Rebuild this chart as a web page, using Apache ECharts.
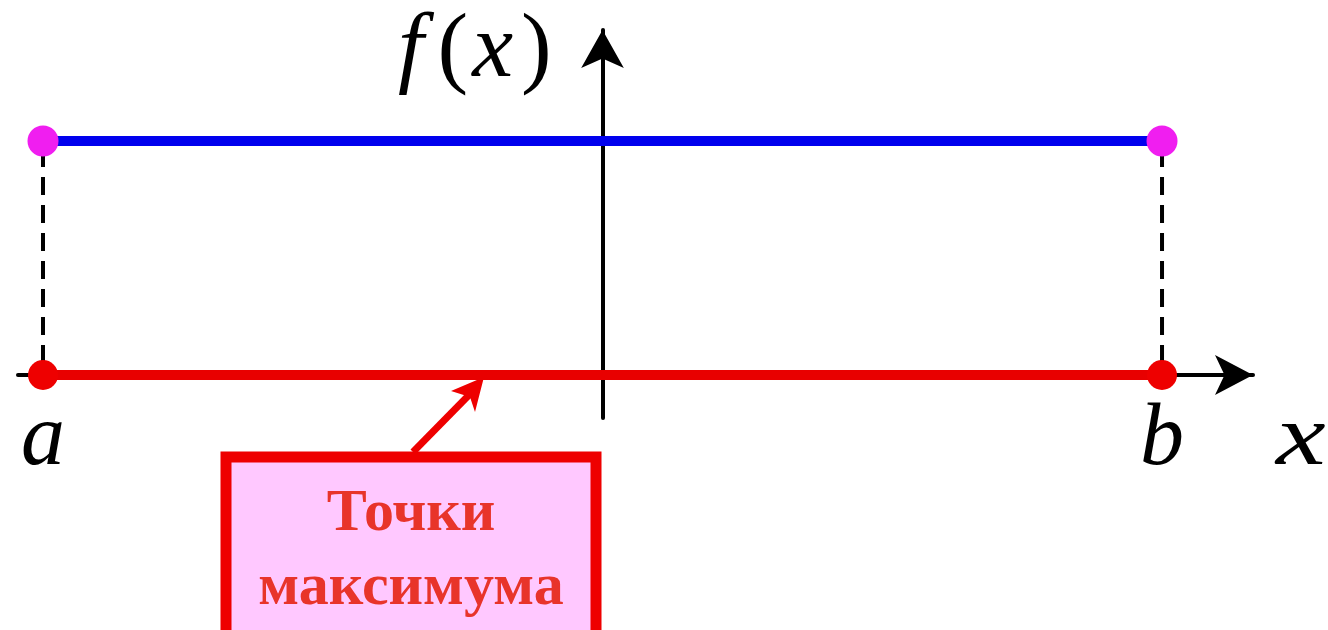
<!DOCTYPE html>
<html>
<head>
<meta charset="utf-8">
<script src="https://cdn.jsdelivr.net/npm/echarts@6/dist/echarts.min.js"></script>
<style>
  html, body { margin: 0; padding: 0; background: #fff; }
  #chart { width: 1328px; height: 630px; }
</style>
</head>
<body>
<div id="chart"></div>
<script>
// ends of the segment [a, b]
var segmentX = [-5, 5];
var endNames = ['a', 'b'];
// f(x) is constant on [a, b]
var fValues = [2, 2];
// every point of [a, b] is a maximum point (drawn on the x axis)
var maxPointLevel = [0, 0];
var noteLines = ['Точки', 'максимума'];

var serif = '"Liberation Serif", "DejaVu Serif", serif';

function pairs(xs, ys) {
  return xs.map(function (x, i) { return [x, ys[i]]; });
}

var chart = echarts.init(document.getElementById('chart'));

var series = [];
// dashed drop lines from f(a), f(b) to the axis
segmentX.forEach(function (x, i) {
  series.push({
    type: 'line',
    data: [[x, fValues[i]], [x, maxPointLevel[i]]],
    showSymbol: false,
    silent: true,
    z: 2,
    lineStyle: { color: '#000', width: 4, type: [18, 10], dashOffset: -8 }
  });
});
// f(x)
series.push({
  type: 'line',
  data: pairs(segmentX, fValues),
  symbol: 'circle',
  symbolSize: 31,
  z: 3,
  lineStyle: { color: '#0000ee', width: 10 },
  itemStyle: { color: '#f01ef0' }
});
// maximum points on the x axis
series.push({
  type: 'line',
  data: pairs(segmentX, maxPointLevel),
  symbol: 'circle',
  symbolSize: 30,
  z: 3,
  lineStyle: { color: '#e80000', width: 10 },
  itemStyle: { color: '#ee0000' },
  label: {
    show: true,
    position: 'bottom',
    distance: 7,
    formatter: function (p) { return endNames[p.dataIndex]; },
    fontFamily: serif,
    fontStyle: 'italic',
    fontSize: 88,
    color: '#000'
  }
});

chart.setOption({
  animation: false,
  grid: { left: 18, right: 75, top: 30, bottom: 212 },
  xAxis: {
    type: 'value',
    min: -5.2234,
    max: 5.813,
    splitLine: { show: false },
    axisTick: { show: false },
    axisLabel: { show: false },
    axisLine: {
      onZero: true,
      symbol: ['none', 'arrow'],
      symbolSize: [30, 38],
      lineStyle: { color: '#000', width: 4 }
    }
  },
  yAxis: {
    type: 'value',
    min: -0.3675,
    max: 2.949,
    splitLine: { show: false },
    axisTick: { show: false },
    axisLabel: { show: false },
    axisLine: {
      onZero: true,
      symbol: ['none', 'arrow'],
      symbolSize: [32, 38],
      lineStyle: { color: '#000', width: 4 }
    }
  },
  series: series,
  graphic: [
    {
      type: 'text',
      left: 398, top: 6,
      style: {
        text: '{f|f}{lp|(}{i|x}{rp|)}',
        rich: {
          f: { font: 'italic 92px ' + serif, fill: '#000', padding: [0, 0, 0, 6] },
          i: { font: 'italic 92px ' + serif, fill: '#000' },
          lp: { font: '92px ' + serif, fill: '#000', padding: [0, 4, 0, 14] },
          rp: { font: '92px ' + serif, fill: '#000', padding: [0, 0, 0, 8] }
        }
      }
    },
    {
      type: 'text',
      x: 1276, y: 398,
      scaleX: 1.3,
      style: { text: 'x', font: 'italic 86px ' + serif, fill: '#000' }
    },
    {
      type: 'line',
      shape: { x1: 413, y1: 452, x2: 470, y2: 394 },
      style: { stroke: '#ee0000', lineWidth: 7 }
    },
    {
      type: 'polygon',
      shape: { points: [[484, 377], [451, 391], [470, 397], [475, 412]] },
      style: { fill: '#ee0000' }
    },
    {
      type: 'rect',
      shape: { x: 226, y: 457, width: 370, height: 200 },
      style: { fill: '#ffc8ff', stroke: '#ee0000', lineWidth: 11 }
    },
    {
      type: 'text',
      x: 411, y: 551,
      style: {
        text: noteLines.join('\n'),
        font: 'bold 60px ' + serif,
        lineHeight: 74,
        fill: '#e8342a',
        align: 'center',
        verticalAlign: 'middle'
      }
    }
  ]
});
</script>
</body>
</html>
